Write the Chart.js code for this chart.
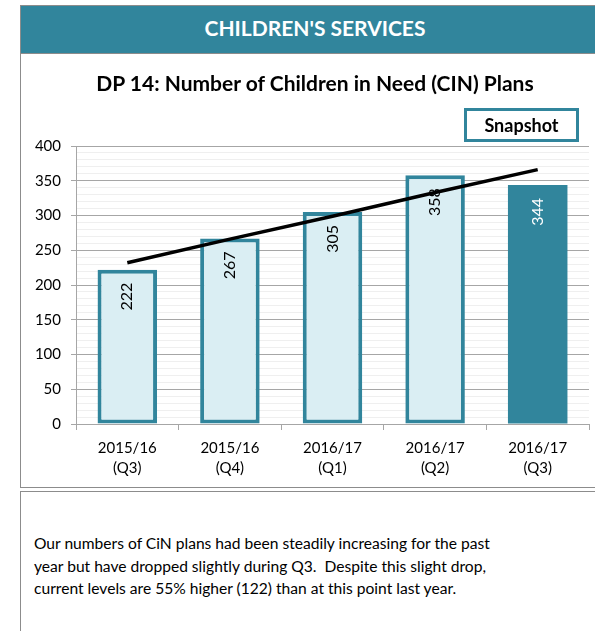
<!DOCTYPE html>
<html>
<head>
<meta charset="utf-8">
<script src="https://cdn.jsdelivr.net/npm/chart.js@4.4.1/dist/chart.umd.min.js"></script>
<style>
  html, body { margin: 0; padding: 0; }
  body { width: 595px; height: 631px; overflow: hidden; position: relative; background: #fff; font-family: Lato, "Open Sans", sans-serif; }
  .header {
    position: absolute; left: 20px; top: 5px; width: 600px; height: 47px;
    background: #31859C; border: 1px solid #8C8C8C; border-right: none;
    color: #fff; font-weight: bold; font-size: 21px; line-height: 44px;
  }
  .header span { position: absolute; left: 0; width: 588px; text-align: center; }
  .panel {
    position: absolute; left: 20px; top: 53px; width: 600px; height: 434px;
    border-left: 1px solid #8C8C8C; border-bottom: 1px solid #8C8C8C;
  }
  .title {
    position: absolute; left: 0; top: 17px; width: 588px; text-align: center;
    font-weight: bold; font-size: 21px; line-height: 25px; color: #000;
  }
  .snapshot {
    position: absolute; left: 443px; top: 55px; width: 109px; height: 28px;
    border: 3px solid #31859C; text-align: center; line-height: 28px;
    font-weight: bold; font-size: 18px; color: #000;
  }
  #chartWrap { position: absolute; left: 0; top: 0; width: 575px; height: 435px; }
  .comment {
    position: absolute; left: 20px; top: 491px; width: 600px; height: 150px;
    border-left: 1px solid #8C8C8C; border-top: 1px solid #8C8C8C;
  }
  .comment p {
    position: absolute; left: 13px; top: 40px; margin: 0; width: 580px; white-space: nowrap;
    font-size: 15.6px; line-height: 22.5px; color: #000;
  }
</style>
</head>
<body>
<div class="header"><span>CHILDREN'S SERVICES</span></div>
<div class="panel">
  <div id="chartWrap"><canvas id="cinChart" width="575" height="435"></canvas></div>
  <div class="title">DP 14: Number of Children in Need (CIN) Plans</div>
  <div class="snapshot">Snapshot</div>
</div>
<div class="comment">
  <p>Our numbers of CiN plans had been steadily increasing for the past<br>year but have dropped slightly during Q3.&nbsp; Despite this slight drop,<br>current levels are 55% higher (122) than at this point last year.</p>
</div>

<script>
var quarters = [['2015/16', '(Q3)'], ['2015/16', '(Q4)'], ['2016/17', '(Q1)'], ['2016/17', '(Q2)'], ['2016/17', '(Q3)']];
var cinPlans = [222, 267, 305, 358, 344];
var trendLine = [232, 266, 299, 333, 366];
var yTicks = [0, 50, 100, 150, 200, 250, 300, 350, 400];

var teal = '#31859C';
var lightBlue = '#DAEEF3';
var last = cinPlans.length - 1;

// value labels, rotated, just inside the top of each bar (drawn before the trend line)
var barLabels = {
    id: 'barLabels',
    afterDatasetDraw: function (chart, args) {
        if (args.index !== 0) return;
        var ctx = chart.ctx;
        var meta = chart.getDatasetMeta(0);
        ctx.save();
        ctx.font = '16px Lato';
        ctx.textAlign = 'right';
        ctx.textBaseline = 'middle';
        meta.data.forEach(function (bar, i) {
            ctx.save();
            ctx.translate(bar.x, bar.y + 13);
            ctx.rotate(-Math.PI / 2);
            ctx.fillStyle = i === last ? '#fff' : '#000';
            ctx.fillText(String(cinPlans[i]), 0, 0);
            ctx.restore();
        });
        ctx.restore();
    }
};

var ctx = document.getElementById('cinChart').getContext('2d');
var myChart = new Chart(ctx, {
    type: 'bar',
    data: {
        labels: quarters,
        datasets: [{
            label: 'CIN Plans',
            data: cinPlans,
            backgroundColor: cinPlans.map(function (v, i) { return i === last ? teal : lightBlue; }),
            borderColor: teal,
            borderWidth: cinPlans.map(function (v, i) { return i === last ? 0 : 4; }),
            borderSkipped: false,
            barPercentage: 0.58,
            categoryPercentage: 1,
            order: 2
        }, {
            type: 'line',
            label: 'Trend',
            data: trendLine,
            borderColor: '#000',
            borderWidth: 3.5,
            pointRadius: 0,
            fill: false,
            order: 1
        }]
    },
    options: {
        responsive: false,
        animation: false,
        layout: { padding: { top: 93, right: 7, left: 0, bottom: 0 } },
        plugins: {
            legend: { display: false },
            tooltip: { enabled: false }
        },
        scales: {
            x: {
                grid: { drawOnChartArea: false, color: '#A6A6A6', tickLength: 6, offset: true },
                border: { color: '#A6A6A6' },
                ticks: { color: '#000', font: { family: 'Lato', size: 15, lineHeight: 1.35 }, padding: 8, maxRotation: 0 },
                afterFit: function (scale) { scale.height = 64; }
            },
            y: {
                min: 0,
                max: 400,
                grid: {
                    color: function (c) { return yTicks.indexOf(c.tick.value) >= 0 ? '#A6A6A6' : '#EFEFEF'; },
                    tickColor: function (c) { return yTicks.indexOf(c.tick.value) >= 0 ? '#A6A6A6' : 'rgba(0,0,0,0)'; },
                    tickLength: 5
                },
                border: { color: '#A6A6A6' },
                ticks: {
                    stepSize: 10,
                    autoSkip: false,
                    color: '#000',
                    font: { family: 'Lato', size: 15 },
                    padding: 10,
                    callback: function (v) { return yTicks.indexOf(v) >= 0 ? v : ''; }
                },
                afterFit: function (scale) { scale.width = 55; }
            }
        }
    },
    plugins: [barLabels]
});
</script>
</body>
</html>
